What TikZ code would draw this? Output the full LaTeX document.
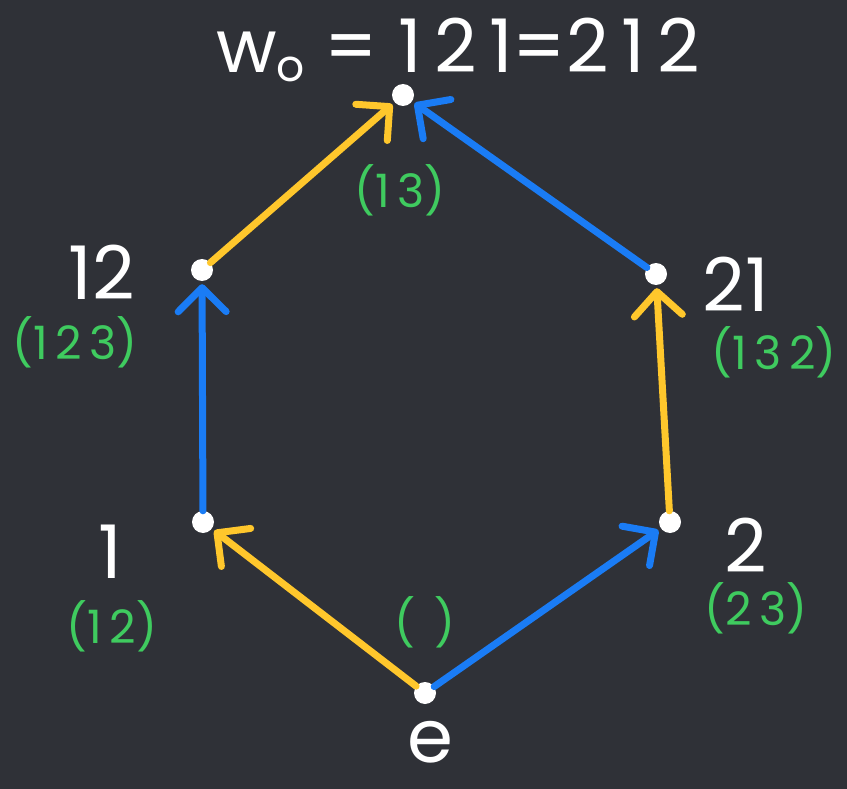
\documentclass[tikz,border=0pt]{standalone}
\usepackage{fontspec}
\setmainfont{Poppins}
\usetikzlibrary{arrows.meta}
\definecolor{board}{HTML}{2F3137}
\definecolor{yel}{HTML}{FFC72C}
\definecolor{blu}{HTML}{1A7CF5}
\definecolor{grn}{HTML}{3FCB5F}
\tikzset{
  dot/.style={circle,fill=white,minimum size=22pt,inner sep=0pt},
  edge/.style={line width=7pt,line cap=round,
    -{Straight Barb[length=24pt,width=48pt,line width=7pt,round]},shorten >=3pt},
  yedge/.style={edge,draw=yel},
  bedge/.style={edge,draw=blu},
  wlab/.style={text=white,inner sep=0pt,font=\fontsize{74}{74}\selectfont},
  glab/.style={text=grn,inner sep=0pt,font=\fontsize{46}{46}\selectfont},
}
\begin{document}
\begin{tikzpicture}[x=1pt,y=-1pt]
\fill[board] (0,0) rectangle (847,789);
\useasboundingbox (0,0) rectangle (847,789);
% vertices
\node[dot] (e)  at (425,693) {};
\node[dot] (n1) at (203,522) {};
\node[dot] (n2) at (670,522) {};
\node[dot] (n12) at (202,270) {};
\node[dot] (n21) at (656,274) {};
\node[dot] (w0) at (403,95) {};
% edges
\draw[yedge] (e) -- (n1);
\draw[bedge] (e) -- (n2);
\draw[bedge] (n1) -- (n12);
\draw[yedge] (n2) -- (n21);
\draw[yedge] (n12) -- (w0);
\draw[bedge] (n21) -- (w0);
% white labels
\node[wlab] (t0) at (458,50) {w\raisebox{-0.12em}{\fontsize{44}{44}\selectfont o} = 1\,2\,1=2\,1\,2};
\node[wlab] (l12) at (102,272) {12};
\node[wlab] (l21) at (736,284) {21};
\node[wlab] (l1) at (110,552) {1};
\node[wlab] (l2) at (746,545) {2};
\node[wlab] (le) at (430,742) {e};
% green labels
\node[glab] (g123) at (75,342) {(1\,2\,3)};
\node[glab] (g132) at (774,352) {(1\,3\,2)};
\node[glab] (g12) at (112,626) {(1\,2)};
\node[glab] (g23) at (756,608) {(2\,3)};
\node[glab] (gid) at (425,622) {(\ \,)};
\node[glab] (g13) at (400,190) {(1\,3)};
\end{tikzpicture}
\end{document}
